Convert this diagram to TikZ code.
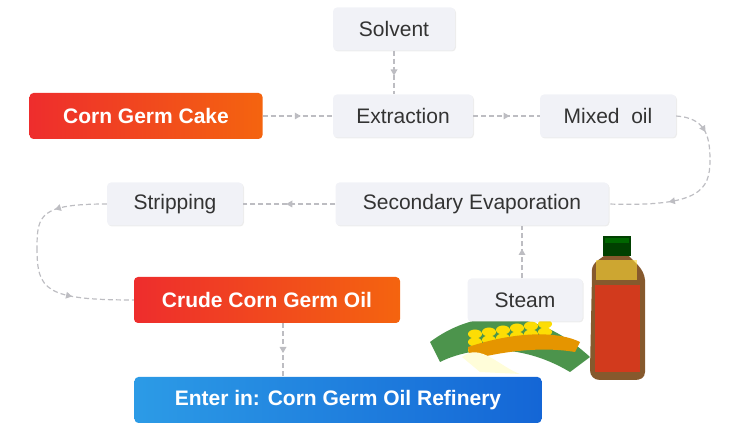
\documentclass[tikz,border=0pt]{standalone}
\usepackage{fontspec}
\setmainfont{Liberation Sans}
\usetikzlibrary{decorations.markings,arrows.meta,shadows}
\definecolor{boxg}{HTML}{F1F2F7}
\definecolor{lineg}{HTML}{BDBDC2}
\definecolor{redA}{HTML}{EE2D2D}
\definecolor{orA}{HTML}{F4640F}
\definecolor{blA}{HTML}{2C9BE6}
\definecolor{blB}{HTML}{1466D6}
\tikzset{
  x=1pt,y=-1pt,
  box/.style={draw=none,fill=boxg,rounded corners=4pt,minimum height=43pt,font=\fontsize{21}{24}\selectfont,text=black!80,drop shadow={shadow xshift=1pt,shadow yshift=-1pt,opacity=0.15}},
  hot/.style={rounded corners=4pt,minimum height=46pt,left color=redA,right color=orA,text=white,font=\bfseries\fontsize{21}{24}\selectfont},
  cool/.style={rounded corners=4pt,minimum height=46pt,left color=blA,right color=blB,text=white,font=\bfseries\fontsize{21}{24}\selectfont},
  con/.style={draw=lineg,line width=1.2pt,dash pattern=on 5pt off 3pt,
    postaction={decorate},decoration={markings,mark=at position 0.5 with {\fill[lineg] (3pt,0)--(-3pt,3.5pt)--(-3pt,-3.5pt)--cycle;}}}
}
\begin{document}
\begin{tikzpicture}
\useasboundingbox (0,0) rectangle (745,435);
% bottle and corn
\begin{scope}[yshift=-12pt]
\fill[green!40!black!70] (430,330) .. controls (470,300) and (530,290) .. (590,345) -- (570,360) .. controls (520,330) and (470,335) .. (440,350) -- cycle;
\foreach \i in {0,...,5}{\foreach \j in {0,1,2}{
 \fill[yellow!80!orange] (475+\i*14,322+\j*8-\i*2) ellipse (7pt and 4.5pt);}}
\fill[orange!70!yellow!90!black] (468,335) .. controls (520,318) and (560,320) .. (580,330) -- (575,340) .. controls (540,334) and (500,340) .. (470,348) -- cycle;
\fill[white!85!yellow] (462,345) .. controls (480,330) and (500,355) .. (520,362) -- (480,360) -- cycle;
\end{scope}
\fill[brown!70!black] (592,275) .. controls (590,262) and (600,260) .. (605,255) -- (628,255) .. controls (634,262) and (644,268) .. (645,280) -- (645,372) .. controls (645,378) and (640,380) .. (635,380) -- (600,380) .. controls (594,380) and (590,376) .. (590,370) -- cycle;
\fill[red!60!brown,opacity=0.8] (595,285) rectangle (640,372);
\fill[yellow!70!orange!80,opacity=0.6] (596,260) rectangle (637,280);
\fill[black!75!green] (603,236) rectangle (631,256);
\fill[black!60!green] (605,238) rectangle (629,243);
% nodes
\node[box,minimum width=122pt] (solv) at (394,29) {Solvent};
\node[hot,minimum width=233pt] (cake) at (146,116) {Corn Germ Cake};
\node[box,minimum width=140pt] (ext) at (403,116) {Extraction};
\node[box,minimum width=136pt] (mix) at (608,116) {Mixed\ \ oil};
\node[box,minimum width=273pt] (sec) at (472,204) {Secondary Evaporation};
\node[box,minimum width=136pt] (str) at (175,204) {Stripping};
\node[hot,minimum width=266pt] (crude) at (267,300) {Crude Corn Germ Oil};
\node[box,minimum width=115pt] (steam) at (525,300) {Steam};
\node[cool,minimum width=407pt] (ent) at (338,400) {Enter in: Corn Germ Oil Refinery};
% connectors
\draw[con] (solv.south) -- (solv.south |- ext.north);
\draw[con] (cake) -- (ext);
\draw[con] (ext) -- (mix);
\draw[con] (mix.east) .. controls (705,118) and (710,135) .. (710,160);
\draw[con] (710,160) .. controls (710,190) and (700,207) .. (sec.east);
\draw[con] (sec) -- (str);
\draw[con] (str.west) .. controls (40,204) and (37,215) .. (37,248);
\draw[con] (37,248) .. controls (37,290) and (45,300) .. (crude.west);
\draw[con] (steam.north -| 522,0) -- (sec.south -| 522,0);
\draw[con] (crude.south -| 283,0) -- (ent.north -| 283,0);
\end{tikzpicture}
\end{document}
